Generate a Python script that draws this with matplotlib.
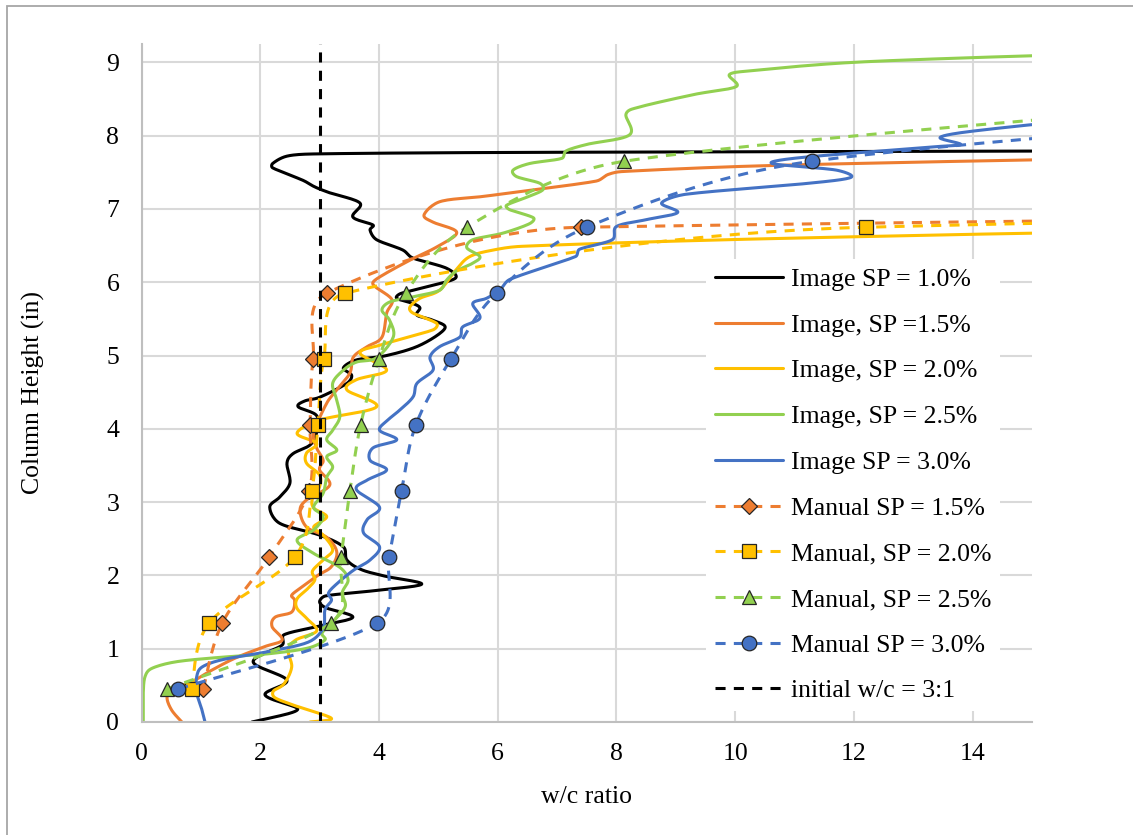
import numpy as np
import matplotlib
matplotlib.use('Agg')
import matplotlib.pyplot as plt
from matplotlib.patches import Rectangle

plt.rcParams['font.family'] = ['Liberation Serif', 'DejaVu Serif']

# ---------- Image analysis profiles (w/c ratio vs column height) ----------
img10_x = [1.86, 2.50, 2.62, 2.08, 2.45, 1.88, 2.37, 2.40, 3.00, 3.56, 3.10, 3.00, 3.10, 3.90, 4.72,
           4.10, 3.70, 3.46, 3.40, 3.00, 2.33, 2.16, 2.33, 2.50, 2.45, 2.55, 2.84, 2.95, 2.95, 2.64,
           2.75, 3.00, 3.46, 3.54, 3.40, 3.62, 4.13, 4.69, 5.11, 4.91, 4.64, 4.69, 4.57, 4.30, 4.35,
           4.57, 5.28, 5.14, 4.57, 4.40, 3.96, 3.85, 3.90, 3.56, 3.68, 3.17, 2.92, 2.72, 2.21, 2.21,
           2.45, 2.90, 6.00, 15.5]
img10_y = [0.00, 0.12, 0.19, 0.37, 0.57, 0.82, 1.05, 1.19, 1.31, 1.43, 1.56, 1.64, 1.72, 1.79, 1.88,
           1.99, 2.08, 2.21, 2.39, 2.55, 2.71, 2.93, 3.07, 3.26, 3.53, 3.66, 3.78, 3.95, 4.18, 4.30,
           4.38, 4.43, 4.62, 4.73, 4.83, 4.94, 5.00, 5.14, 5.37, 5.48, 5.55, 5.65, 5.71, 5.78, 5.84,
           5.89, 6.05, 6.19, 6.33, 6.44, 6.58, 6.71, 6.78, 6.89, 7.08, 7.22, 7.30, 7.39, 7.56, 7.62,
           7.72, 7.75, 7.77, 7.79]

img15_x = [0.68, 0.51, 0.43, 0.51, 0.85, 1.19, 1.60, 2.08, 2.37, 2.20, 2.25, 2.53, 2.58, 2.53, 2.70,
           2.97, 3.20, 3.29, 3.12, 2.78, 2.67, 2.78, 3.17, 3.00, 3.06, 2.95, 2.90, 3.12, 3.29, 3.51,
           3.57, 3.80, 4.05, 4.13, 4.22, 3.95, 3.90, 4.07, 4.52, 4.97, 5.31, 4.91, 4.76, 5.03, 5.75,
           6.41, 7.66, 7.86, 8.10, 10.5, 15.0, 15.5]
img15_y = [0.00, 0.16, 0.33, 0.44, 0.55, 0.71, 0.88, 1.03, 1.12, 1.30, 1.43, 1.50, 1.66, 1.73, 1.84,
           2.00, 2.12, 2.32, 2.52, 2.66, 2.89, 3.03, 3.23, 3.44, 3.57, 3.74, 3.94, 4.35, 4.53, 4.76,
           4.98, 5.12, 5.25, 5.58, 5.76, 5.93, 6.00, 6.10, 6.30, 6.48, 6.68, 6.82, 6.92, 7.10, 7.17,
           7.24, 7.38, 7.47, 7.51, 7.59, 7.67, 7.675]

img20_x = [2.84, 3.20, 2.63, 2.25, 2.22, 2.40, 2.53, 2.47, 2.60, 2.95, 2.80, 2.62, 2.62, 2.80, 2.92,
           2.88, 3.06, 3.22, 3.06, 2.90, 3.12, 2.90, 2.88, 3.00, 3.00, 2.78, 2.78, 2.95, 2.62, 3.00,
           3.96, 3.46, 3.62, 4.13, 3.68, 4.01, 4.91, 4.97, 4.57, 4.52, 4.69, 5.02, 5.30, 5.53, 5.93,
           6.41, 9.86, 15.0, 15.5]
img20_y = [0.00, 0.05, 0.21, 0.33, 0.42, 0.52, 0.75, 0.98, 1.12, 1.24, 1.40, 1.55, 1.68, 1.82, 1.94,
           2.06, 2.21, 2.35, 2.55, 2.66, 2.80, 2.92, 3.05, 3.21, 3.37, 3.53, 3.67, 3.80, 3.94, 4.12,
           4.30, 4.53, 4.67, 4.80, 5.03, 5.14, 5.35, 5.44, 5.58, 5.66, 5.78, 5.89, 6.17, 6.35, 6.44,
           6.49, 6.58, 6.67, 6.67]

img25_x = [0.03, 0.03, 0.06, 0.17, 0.57, 1.29, 2.13, 2.81, 3.09, 3.04, 3.20, 3.43, 3.38, 3.48, 3.34,
           2.90, 2.62, 2.90, 3.06, 2.90, 3.06, 3.12, 3.22, 3.12, 3.29, 3.12, 3.22, 3.34, 3.29, 3.22,
           3.40, 3.62, 3.96, 4.24, 4.18, 4.05, 4.18, 4.57, 5.02, 5.14, 5.30, 5.58, 5.70, 5.48, 5.58,
           6.09, 6.54, 6.60, 6.20, 6.15, 6.49, 6.76, 6.71, 6.32, 6.26, 6.54, 7.08, 7.15, 7.50, 8.22,
           8.16, 8.34, 9.30, 10.02, 9.90, 10.20, 12.0, 15.0, 15.5]
img25_y = [0.00, 0.40, 0.62, 0.73, 0.82, 0.88, 0.93, 1.01, 1.12, 1.21, 1.35, 1.57, 1.76, 1.94, 2.11,
           2.30, 2.48, 2.62, 2.80, 2.93, 3.12, 3.34, 3.48, 3.62, 3.71, 3.85, 3.98, 4.16, 4.39, 4.62,
           4.80, 4.91, 4.97, 5.25, 5.48, 5.62, 5.73, 5.80, 5.89, 6.03, 6.15, 6.26, 6.35, 6.47, 6.58,
           6.67, 6.80, 6.88, 6.99, 7.05, 7.16, 7.26, 7.35, 7.44, 7.53, 7.62, 7.69, 7.79, 7.88, 8.01,
           8.29, 8.38, 8.56, 8.67, 8.83, 8.88, 9.00, 9.09, 9.09]

img30_x = [1.07, 1.02, 0.93, 0.93, 1.02, 1.36, 2.13, 2.81, 3.06, 3.09, 3.20, 3.15, 3.31, 3.57, 3.85,
           4.01, 3.74, 3.80, 4.01, 3.62, 3.80, 4.13, 3.85, 3.90, 4.30, 4.01, 4.15, 4.30, 4.57, 4.64,
           4.91, 4.86, 5.02, 5.36, 5.41, 5.70, 5.58, 5.81, 6.03, 6.21, 7.31, 7.38, 7.93, 8.00, 8.48,
           9.03, 8.76, 9.17, 11.24, 11.95, 11.70, 10.62, 11.10, 13.39, 13.80, 13.45, 13.80, 15.0, 15.5]
img30_y = [0.00, 0.16, 0.40, 0.62, 0.75, 0.85, 0.96, 1.09, 1.28, 1.53, 1.66, 1.76, 1.90, 2.07, 2.21,
           2.39, 2.58, 2.76, 2.93, 3.17, 3.30, 3.44, 3.57, 3.74, 3.85, 3.98, 4.12, 4.22, 4.43, 4.62,
           4.80, 4.98, 5.12, 5.25, 5.39, 5.51, 5.71, 5.78, 5.89, 6.04, 6.35, 6.45, 6.58, 6.76, 6.85,
           6.95, 7.08, 7.20, 7.35, 7.43, 7.53, 7.62, 7.70, 7.85, 7.88, 7.97, 8.04, 8.15, 8.18]

# ---------- Manual measurements ----------
man15_y = [0.45, 1.35, 2.25, 3.15, 4.05, 4.95, 5.85, 6.75, 7.65]
man15_x = [1.04, 1.36, 2.15, 2.82, 2.84, 2.89, 3.12, 7.41, 140.0]
man20_y = [0.45, 1.35, 2.25, 3.15, 4.05, 4.95, 5.85, 6.75, 7.65]
man20_x = [0.85, 1.14, 2.58, 2.87, 2.97, 3.07, 3.43, 12.2, 90.0]
man25_y = [0.45, 1.35, 2.25, 3.15, 4.05, 4.95, 5.85, 6.75, 7.65, 8.55]
man25_x = [0.43, 3.19, 3.36, 3.51, 3.69, 4.00, 4.45, 5.48, 8.13, 20.0]
man30_y = [0.45, 1.35, 2.25, 3.15, 4.05, 4.95, 5.85, 6.75, 7.65, 8.55]
man30_x = [0.62, 3.97, 4.17, 4.38, 4.62, 5.21, 5.98, 7.50, 11.29, 24.0]

init_x = [3.0, 3.0]
init_y = [0.0, 10.0]

labels = ['Image SP = 1.0%', 'Image, SP =1.5%', 'Image, SP = 2.0%', 'Image, SP = 2.5%',
          'Image SP = 3.0%', 'Manual SP = 1.5%', 'Manual, SP = 2.0%', 'Manual, SP = 2.5%',
          'Manual SP = 3.0%', 'initial w/c = 3:1']

C_BLACK, C_ORANGE, C_YELLOW = '#000000', '#ED7D31', '#FFC000'
C_GREEN, C_BLUE = '#92D050', '#4472C4'


def smooth_path(xs, ys, n=14, yscale=1.234):
    # bezier smoothing through the points; tangent handles are capped so long
    # segments next to short ones don't loop back
    p = np.column_stack([np.asarray(xs, float), np.asarray(ys, float) * yscale])
    q = np.vstack([p[:1], p, p[-1:]])
    t = np.linspace(0, 1, n + 1)[1:, None]
    out = [p[:1]]

    def handle(d, seg_len):
        norm = np.hypot(*d)
        if norm == 0:
            return d
        mag = min(norm / 6.0, seg_len * 0.4)
        return d / norm * mag

    for i in range(len(p) - 1):
        p0, p1, p2, p3 = q[i], q[i + 1], q[i + 2], q[i + 3]
        seg = np.hypot(*(p2 - p1))
        c1 = p1 + handle(p2 - p0, seg)
        c2 = p2 - handle(p3 - p1, seg)
        out.append((1 - t) ** 3 * p1 + 3 * (1 - t) ** 2 * t * c1 + 3 * (1 - t) * t ** 2 * c2 + t ** 3 * p2)
    out = np.vstack(out)
    return out[:, 0], out[:, 1] / yscale


fig = plt.figure(figsize=(11.33, 8.35), dpi=100)
ax = fig.add_axes([141.5 / 1133, 113 / 835, 890.5 / 1133, 678 / 835])

# chart area border
fig.patches.append(Rectangle((6.5 / 1133, -0.05), 1.2, (835 - 5.5) / 835 + 0.05, transform=fig.transFigure,
                             fill=False, edgecolor='#A6A6A6', linewidth=1.3, zorder=0))

lw = 2.2
dash = (0, (3.3, 2.7))

handles = []
for xs, ys, c in [(img10_x, img10_y, C_BLACK), (img15_x, img15_y, C_ORANGE), (img20_x, img20_y, C_YELLOW),
                  (img25_x, img25_y, C_GREEN), (img30_x, img30_y, C_BLUE)]:
    sx, sy = smooth_path(xs, ys)
    h, = ax.plot(sx, sy, color=c, lw=lw, solid_capstyle='round')
    handles.append(h)

for xs, ys, c, m, ms in [(man15_x, man15_y, C_ORANGE, 'D', 8.5), (man20_x, man20_y, C_YELLOW, 's', 10.0),
                         (man25_x, man25_y, C_GREEN, '^', 10.5), (man30_x, man30_y, C_BLUE, 'o', 10.5)]:
    sx, sy = smooth_path(xs, ys, n=40)
    ax.plot(sx, sy, color=c, lw=lw, linestyle=dash)
    ax.plot(xs, ys, linestyle='none', marker=m, ms=ms, mfc=c, mec='#262626', mew=0.9)
    h, = ax.plot([], [], color=c, lw=lw, linestyle=dash, marker=m, ms=ms, mfc=c, mec='#262626', mew=0.9)
    handles.append(h)

h, = ax.plot(init_x, init_y, color=C_BLACK, lw=lw, linestyle=dash)
handles.append(h)

# ---------- Axes styling ----------
ax.set_xlim(0, 15)
ax.set_ylim(0, 9.25)
ax.set_xticks(np.arange(0, 15, 2))
ax.set_yticks(np.arange(0, 10, 1))
ax.grid(True, color='#D9D9D9', linewidth=1.5)
ax.set_axisbelow(True)
for s in ['top', 'right']:
    ax.spines[s].set_visible(False)
for s in ['left', 'bottom']:
    ax.spines[s].set_color('#BFBFBF')
    ax.spines[s].set_linewidth(1.5)
ax.tick_params(length=0, labelsize=18.5, colors='#000000')
ax.tick_params(axis='y', pad=16)
ax.tick_params(axis='x', pad=15)

ax.set_xlabel('w/c ratio', fontsize=18.5)
ax.xaxis.set_label_coords(0.5, -0.095)
ax.set_ylabel('Column Height (in)', fontsize=18.5)
ax.yaxis.set_label_coords(-0.108, 0.486)

leg = ax.legend(handles, labels, loc='upper left', bbox_to_anchor=(0.634, 0.683), fontsize=18.5,
                frameon=True, fancybox=False, framealpha=1, facecolor='white', edgecolor='none',
                handlelength=2.65, handletextpad=0.3, labelspacing=0.885, borderpad=0.35,
                borderaxespad=0, numpoints=1)

fig.savefig('out.png', dpi=100)
